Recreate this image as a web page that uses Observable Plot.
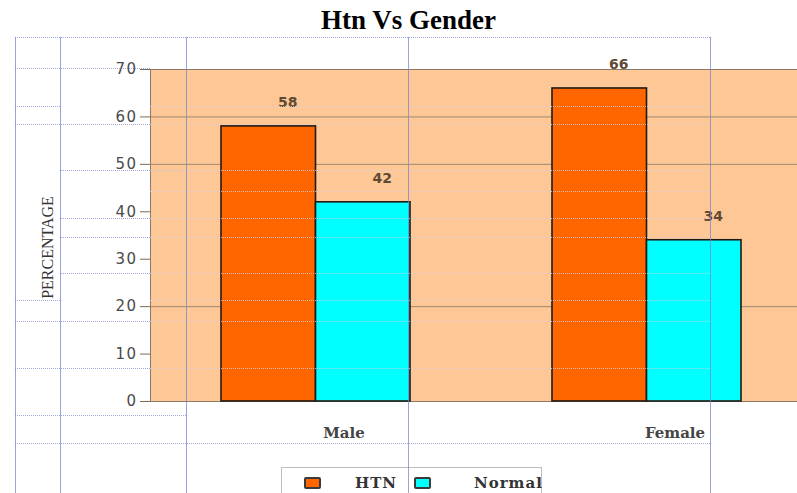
<!DOCTYPE html>
<html>
<head>
<meta charset="utf-8">
<script src="https://cdn.jsdelivr.net/npm/d3@7"></script>
<script src="https://cdn.jsdelivr.net/npm/@observablehq/plot@0.6"></script>
<style>
  html, body { margin: 0; padding: 0; }
  body { width: 797px; height: 493px; overflow: hidden; background: #fff; position: relative; }
  #title { position: absolute; left: 10px; width: 797px; top: 7px; text-align: center;
           font-family: "Liberation Serif", serif; font-weight: bold; font-size: 27px; line-height: 27px; color: #000; }
  #chart { position: absolute; left: 0; top: 37px; width: 812px; }
  #chart svg { max-width: none !important; }
  #chart .ytick text { letter-spacing: 1.5px; }
  #legend { position: absolute; left: 281px; top: 467px; width: 259px; height: 40px;
            border: 1px solid #bdbdbd; border-bottom: none; background: #fff; }
  .lg-sw { position: absolute; top: 9px; width: 13px; height: 8px; border: 2px solid #3a3a3a; border-radius: 2px; }
  .lg-tx { position: absolute; top: 5px; font-family: "DejaVu Serif", serif; font-weight: bold; font-size: 15px;
           color: #333; letter-spacing: 1px; line-height: 20px; }
  .deco { position: absolute; pointer-events: none; }
  .dv { width: 0; border-left: 1px solid rgba(120,132,210,0.75); }
  .dh { height: 0; border-top: 1px dotted rgba(120,132,210,0.7); }
  .dhl { height: 0; border-top: 1px dotted rgba(215,205,225,0.8); }
</style>
</head>
<body>
<div id="title">Htn Vs Gender</div>
<div id="chart"></div>
<div id="legend"></div>
<div id="deco"></div>
<script>
// ---- data ----
const genders = ["Male", "Female"];
const series = ["HTN", "Normal"];
const htnValues = [58, 66];
const normalValues = [42, 34];
const yTicks = [0, 10, 20, 30, 40, 50, 60, 70];
const gridTicks = [20, 50, 60];
const seriesColors = ["#ff6600", "#00ffff"];
const yTitle = "PERCENTAGE";

const htnRows = genders.map((g, i) => ({gender: g, series: series[0], value: htnValues[i]}));
const normalRows = genders.map((g, i) => ({gender: g, series: series[1], value: normalValues[i]}));

function makeChart(half) {
  return Plot.plot({
    width: 812,
    height: 425,
    marginTop: 32,
    marginLeft: 150,
    marginRight: 0,
    marginBottom: 61,
    style: {fontFamily: "DejaVu Sans, sans-serif", background: "transparent", overflow: "visible", maxWidth: "none"},
    x: {domain: genders, paddingInner: 0.429, paddingOuter: 0.2145, axis: null},
    y: {domain: [0, 70], axis: null},
    color: {domain: series, range: seriesColors},
    marks: [
      Plot.frame({fill: "#fdc896", stroke: "#8b7a66"}),
      Plot.ruleY(gridTicks, {stroke: "#9c8872", strokeWidth: 1}),
      Plot.barY(htnRows, {x: "gender", y: "value", fill: "series", insetRight: half,
        stroke: "#1f1a16", strokeWidth: 1.6}),
      Plot.barY(normalRows, {x: "gender", y: "value", fill: "series", insetLeft: half,
        stroke: "#1f1a16", strokeWidth: 1.6}),
      Plot.text(htnRows, {x: "gender", y: "value", text: d => String(d.value),
        dy: -24, dx: -half / 2 + 19, fill: "#5e4a33", fontSize: 14, fontWeight: "bold"}),
      Plot.text(normalRows, {x: "gender", y: "value", text: d => String(d.value),
        dy: -24, dx: half / 2 + 19, fill: "#5e4a33", fontSize: 14, fontWeight: "bold"}),
      Plot.axisY({ticks: yTicks, tickSize: 10, tickPadding: 3, fontSize: 15, fill: "#4a4a4a",
        stroke: "#7a6a5a", label: null, className: "ytick"}),
      Plot.text([yTitle], {text: d => d, frameAnchor: "left", textAnchor: "middle", rotate: -90,
        dx: -103, dy: 12, fontFamily: "Liberation Serif, serif", fontSize: 16, fill: "#333"}),
      Plot.axisX({tickSize: 0, tickPadding: 26, dx: 28, fontSize: 15, fontFamily: "DejaVu Serif, serif",
        fontWeight: "bold", fill: "#444", label: null})
    ]
  });
}
// first pass to read the band width from the x scale, then draw with bars split in halves
const probe = makeChart(0);
const halfBand = probe.scale("x").bandwidth / 2;
document.getElementById("chart").appendChild(makeChart(halfBand));

// ---- legend ----
const legend = document.getElementById("legend");
const swLeft = [22, 132], txLeft = [73, 192];
series.forEach((s, i) => {
  const sw = document.createElement("div");
  sw.className = "lg-sw";
  sw.style.left = swLeft[i] + "px";
  sw.style.background = seriesColors[i];
  legend.appendChild(sw);
  const tx = document.createElement("div");
  tx.className = "lg-tx";
  tx.style.left = txLeft[i] + "px";
  tx.textContent = s;
  legend.appendChild(tx);
});

// ---- page decoration: the faint table grid of the source document ----
const deco = document.getElementById("deco");
function line(cls, l, t, w, h) {
  const d = document.createElement("div");
  d.className = "deco " + cls;
  d.style.left = l + "px"; d.style.top = t + "px";
  if (w != null) d.style.width = w + "px";
  if (h != null) d.style.height = h + "px";
  deco.appendChild(d);
}
[15, 60, 186, 408, 710].forEach(x => line("dv", x, 37, null, 456));
[[15, 710, 37], [15, 710, 443], [15, 186, 415], [15, 150, 68], [15, 60, 106], [15, 150, 124],
 [60, 186, 170], [60, 150, 218], [60, 150, 237], [60, 150, 273], [15, 60, 300], [15, 150, 321], [15, 150, 368]]
  .forEach(([a, b, y]) => line("dh", a, y, b - a, null));
[106, 124, 170, 191, 218, 237, 273, 300, 321, 368].forEach(y => line("dhl", 150, y, 560, null));
</script>
</body>
</html>
